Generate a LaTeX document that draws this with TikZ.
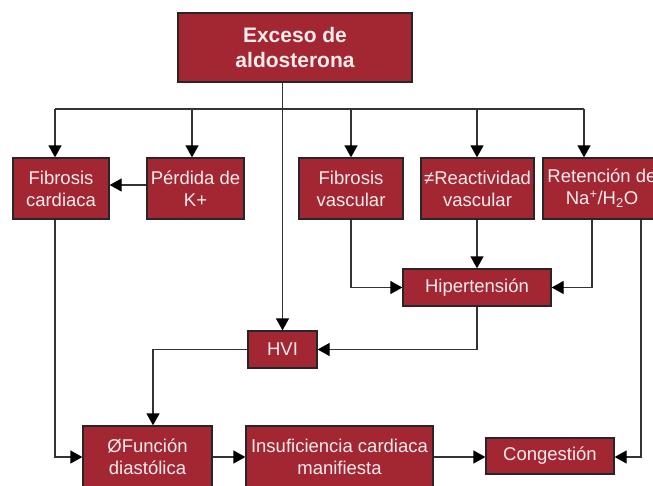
\documentclass[tikz,border=0pt]{standalone}
\usepackage{fontspec}
\setmainfont{Liberation Sans}
\usetikzlibrary{arrows.meta}
\definecolor{boxred}{HTML}{A32633}
\definecolor{boxtext}{HTML}{F8ECEC}
\definecolor{linec}{HTML}{333333}
\begin{document}
\begin{tikzpicture}[x=1pt,y=-1pt,
  rbox/.style={draw=black!85,line width=1.3pt,fill=boxred,text=boxtext,align=center,inner sep=0pt,
    font=\fontsize{18.5}{22}\selectfont},
  conn/.style={draw=linec,line width=1.3pt},
  arr/.style={conn,-{Triangle[length=12pt,width=13pt,fill=black,color=black]}}]
\useasboundingbox (0,0) rectangle (653,485);
\fill[white] (0,0) rectangle (653,485);
\node[rbox,minimum width=234pt,minimum height=69pt,font=\bfseries\fontsize{21}{25}\selectfont] (top) at (295,47.5) {Exceso de\\aldosterona};
\node[rbox,minimum width=96pt,minimum height=61pt] (fc) at (61,188.5) {Fibrosis\\cardiaca};
\node[rbox,minimum width=97pt,minimum height=61pt] (pk) at (195.5,188.5) {Pérdida de\\K+};
\node[rbox,minimum width=104pt,minimum height=61pt] (fv) at (351,188.5) {Fibrosis\\vascular};
\node[rbox,minimum width=113pt,minimum height=61pt] (rv) at (477.5,188.5) {≠Reactividad\\vascular};
\node[rbox,minimum width=118pt,minimum height=61pt] (rn) at (602,188.5) {Retención de\\Na\textsuperscript{+}/H\textsubscript{2}O};
\node[rbox,minimum width=148pt,minimum height=37pt] (ht) at (477,287.5) {Hipertensión};
\node[rbox,minimum width=69pt,minimum height=37pt] (hvi) at (282.5,349.5) {HVI};
\node[rbox,minimum width=129pt,minimum height=62pt] (fd) at (147.5,457) {ØFunción\\diastólica};
\node[rbox,minimum width=187pt,minimum height=62pt] (ins) at (339.5,457) {Insuficiencia cardiaca\\manifiesta};
\node[rbox,minimum width=128pt,minimum height=36pt] (cg) at (550,456) {Congestión};
% bus
\coordinate (bus) at (283,109);
\coordinate (busL) at (55,109);
\coordinate (busR) at (584,109);
\draw[arr] (top.south -| hvi.north) -- (hvi.north);
\draw[conn] (busL) -- (busR);
\draw[arr] (busL) -- (busL |- fc.north);
\draw[arr] (bus -| pk.north) ++(-3.5,0) coordinate (pkb) -- (pkb |- pk.north);
\draw[arr] (bus -| fv.north) -- (fv.north);
\draw[arr] (bus -| ht.north) -- (ht.north |- rv.north);
\draw[arr] (busR) -- (busR |- rn.north);
% connections
\draw[arr] (pk.west |- 0,185) -- (fc.east |- 0,185);
\draw[arr] (busL |- fc.south) |- (fd.west);
\draw[arr] (fv.south) |- (ht.west);
\draw[arr] (ht.north |- rv.south) -- (ht.north);
\coordinate (rnA) at (592,219);
\coordinate (rnB) at (641,219);
\draw[arr] (rnA |- rn.south) |- (ht.east);
\draw[arr] (rnB |- rn.south) |- (cg.east |- 0,457);
\draw[arr] (ht.south) |- (hvi.east);
\coordinate (fdn) at (153,426);
\draw[arr] (hvi.west) -| (fdn |- fd.north);
\draw[arr] (fd.east) -- (ins.west);
\draw[arr] (ins.east) -- (cg.west |- ins.east);
\end{tikzpicture}
\end{document}
